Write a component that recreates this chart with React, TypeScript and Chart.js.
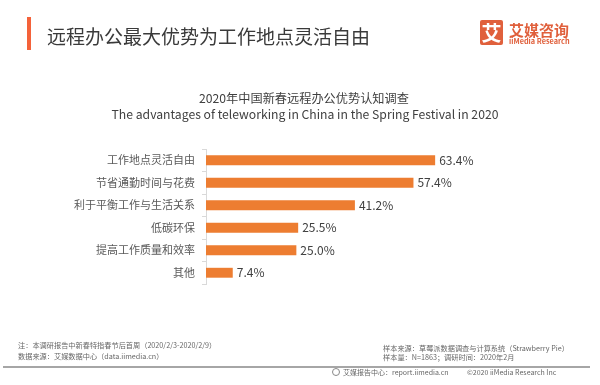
import React, { useEffect, useRef } from "react";
import { Chart, registerables } from "chart.js";

Chart.register(...registerables);

const FONT = '"Noto Sans CJK SC", "Noto Sans", sans-serif';

const categories = [
  "工作地点灵活自由",
  "节省通勤时间与花费",
  "利于平衡工作与生活关系",
  "低碳环保",
  "提高工作质量和效率",
  "其他",
];
const values = [63.4, 57.4, 41.2, 25.5, 25.0, 7.4];

const titleText = "远程办公最大优势为工作地点灵活自由";
const subtitleCn = "2020年中国新春远程办公优势认知调查";
const subtitleEn = "The advantages of teleworking in China in the Spring Festival in 2020";
const noteLines = [
  "注：本调研报告中新春特指春节后首周（2020/2/3-2020/2/9）",
  "数据来源：艾媒数据中心（data.iimedia.cn）",
];
const sampleLines = [
  "样本来源：草莓派数据调查与计算系统（Strawberry Pie）",
  "样本量：N=1863；调研时间：2020年2月",
];

const valueLabelPlugin = {
  id: "valueLabels",
  afterDatasetsDraw(chart: any) {
    const ctx = chart.ctx;
    const meta = chart.getDatasetMeta(0);
    ctx.save();
    ctx.font = `12px ${FONT}`;
    ctx.fillStyle = "#404040";
    ctx.textAlign = "left";
    ctx.textBaseline = "middle";
    meta.data.forEach((bar: any, i: number) => {
      ctx.fillText(values[i].toFixed(1) + "%", bar.x + 4, bar.y);
    });
    ctx.restore();
  },
};

const abs = (s: React.CSSProperties): React.CSSProperties => ({
  position: "absolute",
  whiteSpace: "nowrap",
  margin: 0,
  ...s,
});

export default function App() {
  const ref = useRef<HTMLCanvasElement | null>(null);

  useEffect(() => {
    if (!ref.current) return;
    Chart.defaults.font.family = FONT;
    const chart = new Chart(ref.current, {
      type: "bar",
      data: {
        labels: categories,
        datasets: [
          {
            data: values,
            backgroundColor: "#ED7D31",
            barPercentage: 0.44,
            categoryPercentage: 1,
          },
        ],
      },
      options: {
        indexAxis: "y",
        animation: false,
        responsive: false,
        maintainAspectRatio: false,
        layout: { padding: { top: 149, bottom: 101, left: 0, right: 141 } },
        plugins: {
          legend: { display: false },
          tooltip: { enabled: false },
          title: { display: false },
        },
        scales: {
          x: { display: false, min: 0, max: 70 },
          y: {
            position: "left",
            afterFit: (scale: any) => {
              scale.width = 206;
            },
            grid: {
              drawOnChartArea: false,
              drawTicks: true,
              tickLength: 4,
              color: "#d9d9d9",
              offset: true,
            },
            border: { color: "#d9d9d9", width: 1 },
            ticks: {
              font: { size: 11, family: FONT },
              color: "#595959",
              padding: 7,
            },
          },
        },
      },
      plugins: [valueLabelPlugin],
    });
    return () => chart.destroy();
  }, []);

  return (
    <div
      style={{
        position: "absolute",
        left: 0,
        top: 0,
        width: 600,
        height: 385,
        background: "#fff",
        fontFamily: FONT,
        overflow: "hidden",
      }}
    >
      <canvas ref={ref} width={600} height={385} style={{ position: "absolute", left: 0, top: 0 }} />
      <div style={abs({ left: 27, top: 17, width: 4, height: 33, background: "#F4623A" })} />
      <div style={abs({ left: 47, top: 26, fontSize: 19, lineHeight: "19px", color: "#3a3a3a" })}>{titleText}</div>
      <div
        style={abs({
          left: 480,
          top: 20,
          width: 23,
          height: 25,
          background: "#E0603C",
          borderRadius: 2,
          color: "#fff",
          fontSize: 20,
          fontWeight: 700,
          lineHeight: "25px",
          textAlign: "center",
        })}
      >
        艾
      </div>
      <div style={abs({ left: 509, top: 22, fontSize: 15, lineHeight: "15px", fontWeight: 700, color: "#E0603C" })}>艾媒咨询</div>
      <div style={abs({ left: 509, top: 37, fontSize: 7.3, lineHeight: "8px", fontWeight: 700, color: "#E0603C" })}>iiMedia Research</div>
      <div style={abs({ left: 304, top: 92, fontSize: 12.2, lineHeight: "13px", color: "#404040", transform: "translateX(-50%)" })}>{subtitleCn}</div>
      <div style={abs({ left: 305, top: 108, fontSize: 12.2, lineHeight: "13px", color: "#404040", transform: "translateX(-50%)" })}>{subtitleEn}</div>
      <div style={abs({ left: 18, top: 341, fontSize: 7.2, lineHeight: "8px", color: "#666" })}>{noteLines[0]}</div>
      <div style={abs({ left: 18, top: 352, fontSize: 7.2, lineHeight: "8px", color: "#666" })}>{noteLines[1]}</div>
      <div style={abs({ left: 383, top: 344, fontSize: 7.2, lineHeight: "8px", color: "#666" })}>{sampleLines[0]}</div>
      <div style={abs({ left: 383, top: 353, fontSize: 7.2, lineHeight: "8px", color: "#666" })}>{sampleLines[1]}</div>
      <div style={abs({ left: 3, top: 366, width: 587, height: 2, background: "#A6A6A6" })} />
      <div
        style={abs({
          left: 332,
          top: 368,
          width: 8,
          height: 8,
          borderRadius: "50%",
          border: "1px solid #888",
          boxSizing: "border-box",
        })}
      />
      <div style={abs({ left: 343, top: 368, fontSize: 7, lineHeight: "8px", color: "#666" })}>艾媒报告中心：report.iimedia.cn</div>
      <div style={abs({ left: 467, top: 368, fontSize: 7, lineHeight: "8px", color: "#666" })}>©2020 iiMedia Research Inc</div>
    </div>
  );
}
